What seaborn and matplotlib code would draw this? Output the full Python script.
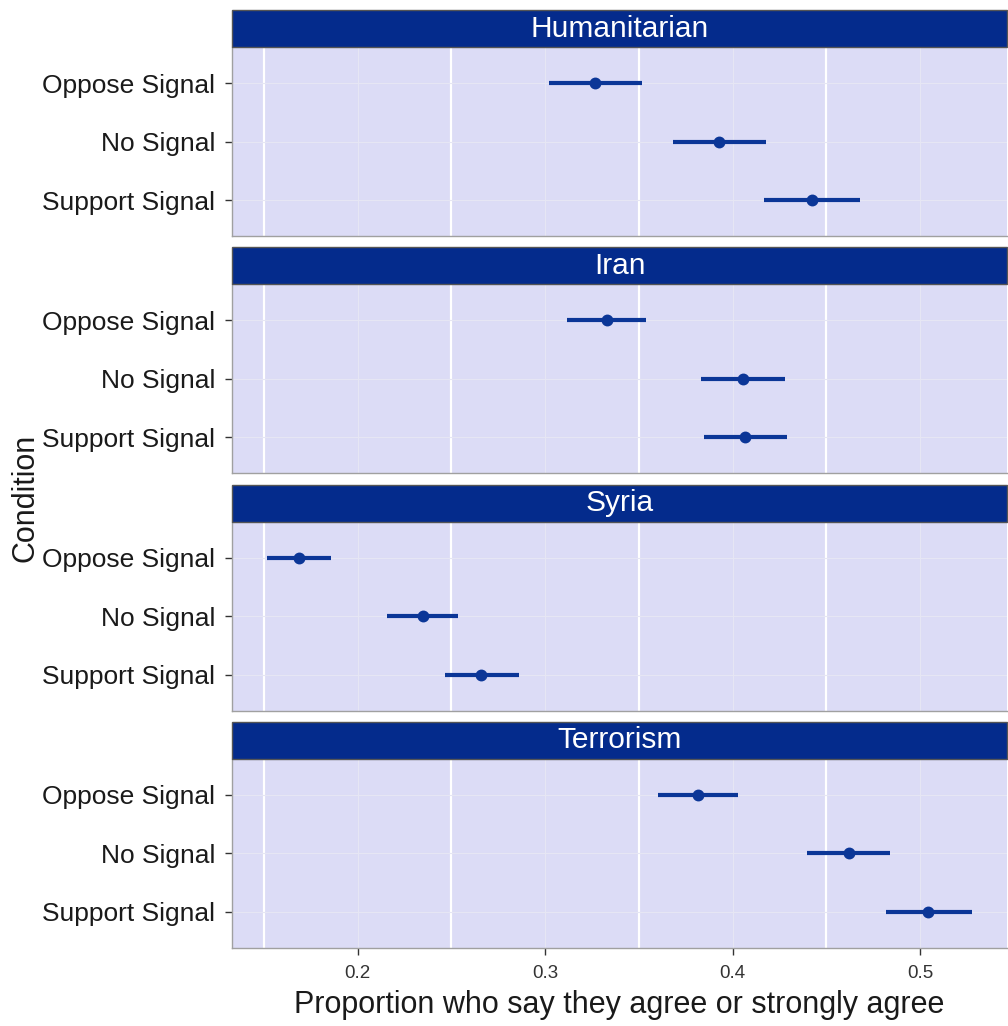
import pandas as pd
import numpy as np
import matplotlib.pyplot as plt
import matplotlib.patches as mpatches
import seaborn as sns

# Data
issues = ["Humanitarian", "Iran", "Syria", "Terrorism"]
conditions = ["Oppose Signal", "No Signal", "Support Signal"]

propHumanitarian = [0.3265, 0.3929, 0.4423]
lowHumanitarian = [0.3018, 0.3680, 0.4168]
highHumanitarian = [0.3517, 0.4180, 0.4682]

propIran = [0.3328, 0.4055, 0.4066]
lowIran = [0.3118, 0.3832, 0.3845]
highIran = [0.3538, 0.4281, 0.4291]

propSyria = [0.1688, 0.2346, 0.2659]
lowSyria = [0.1517, 0.2157, 0.2465]
highSyria = [0.1856, 0.2535, 0.2861]

propTerrorism = [0.3814, 0.4622, 0.5045]
lowTerrorism = [0.3601, 0.4396, 0.4816]
highTerrorism = [0.4031, 0.4840, 0.5276]

xTicks = [0.2, 0.3, 0.4, 0.5]
xMinor = [0.15, 0.25, 0.35, 0.45]

stripColor = "#042B8C"
pointColor = "#0B3697"
panelColor = "#DCDCF6"

df = pd.DataFrame({
    "issue": np.repeat(issues, len(conditions)),
    "condition": conditions * len(issues),
    "prop": propHumanitarian + propIran + propSyria + propTerrorism,
    "low": lowHumanitarian + lowIran + lowSyria + lowTerrorism,
    "high": highHumanitarian + highIran + highSyria + highTerrorism,
})

sns.set_theme(style="white")
plt.rcParams["font.family"] = ["Liberation Sans", "DejaVu Sans"]

g = sns.FacetGrid(df, row="issue", row_order=issues, sharex=True, sharey=True,
                  height=2.5, aspect=3)
g.figure.set_size_inches(10.08, 10.26)


def drawInterval(data, **kws):
    ax = plt.gca()
    ypos = data["condition"].map({c: i for i, c in enumerate(conditions)})
    ax.hlines(ypos, data["low"], data["high"], color=pointColor, lw=3.0, zorder=3)
    sns.pointplot(data=data, x="prop", y="condition", order=conditions,
                  linestyle="none", errorbar=None, color=pointColor,
                  markersize=6.5, ax=ax, zorder=4)


g.map_dataframe(drawInterval)

# x limits with 5% expansion like ggplot
lo, hi = df["low"].min(), df["high"].max()
pad = 0.05 * (hi - lo)

g.figure.subplots_adjust(left=0.2302, right=0.999, top=1 - 47 / 1026,
                         bottom=1 - 948 / 1026, hspace=0.254)

axes = list(g.axes.flat)
for k, (ax, issue) in enumerate(zip(axes, issues)):
    ax.set_facecolor(panelColor)
    ax.set_xlim(lo - pad, hi + pad)
    ax.set_ylim(2.62, -0.62)
    ax.set_xticks(xTicks)
    ax.set_xticks(xMinor, minor=True)
    ax.grid(False)
    for v in xMinor:
        ax.axvline(v, color="white", lw=1.6, zorder=1)
    for v in xTicks:
        ax.axvline(v, color="#E6E6F4", lw=0.8, zorder=1)
    for i in range(len(conditions)):
        ax.axhline(i, color="#E6E6F4", lw=0.8, zorder=1)
    for s in ax.spines.values():
        s.set_color("#A0A0A0")
        s.set_linewidth(1.0)
    ax.tick_params(axis="y", which="major", left=True, length=5, width=1,
                   color="#333333", labelsize=19, labelcolor="#1a1a1a", pad=7)
    isLast = k == len(axes) - 1
    ax.tick_params(axis="x", which="major", bottom=isLast, length=5, width=1,
                   color="#333333", labelsize=13.5, labelcolor="#333333", pad=7,
                   labelbottom=isLast)
    ax.tick_params(axis="x", which="minor", bottom=False)
    ax.set_ylabel("")
    ax.set_xlabel("")
    ax.set_title("")
    stripH = 37 / 189.25
    ax.add_patch(mpatches.Rectangle((0, 1), 1, stripH, transform=ax.transAxes,
                                    facecolor=stripColor, edgecolor="#555555",
                                    lw=1.0, clip_on=False, zorder=5))
    ax.text(0.5, 1 + stripH / 2, issue, transform=ax.transAxes, ha="center",
            va="center", color="white", fontsize=21.5, zorder=6)

axes[-1].set_xlabel("Proportion who say they agree or strongly agree",
                    fontsize=22, color="#1a1a1a", labelpad=6)
g.figure.text(0.025, 1 - 498 / 1026, "Condition", rotation=90, ha="center",
              va="center", fontsize=22, color="#1a1a1a")

g.figure.savefig("out.png", dpi=100)
